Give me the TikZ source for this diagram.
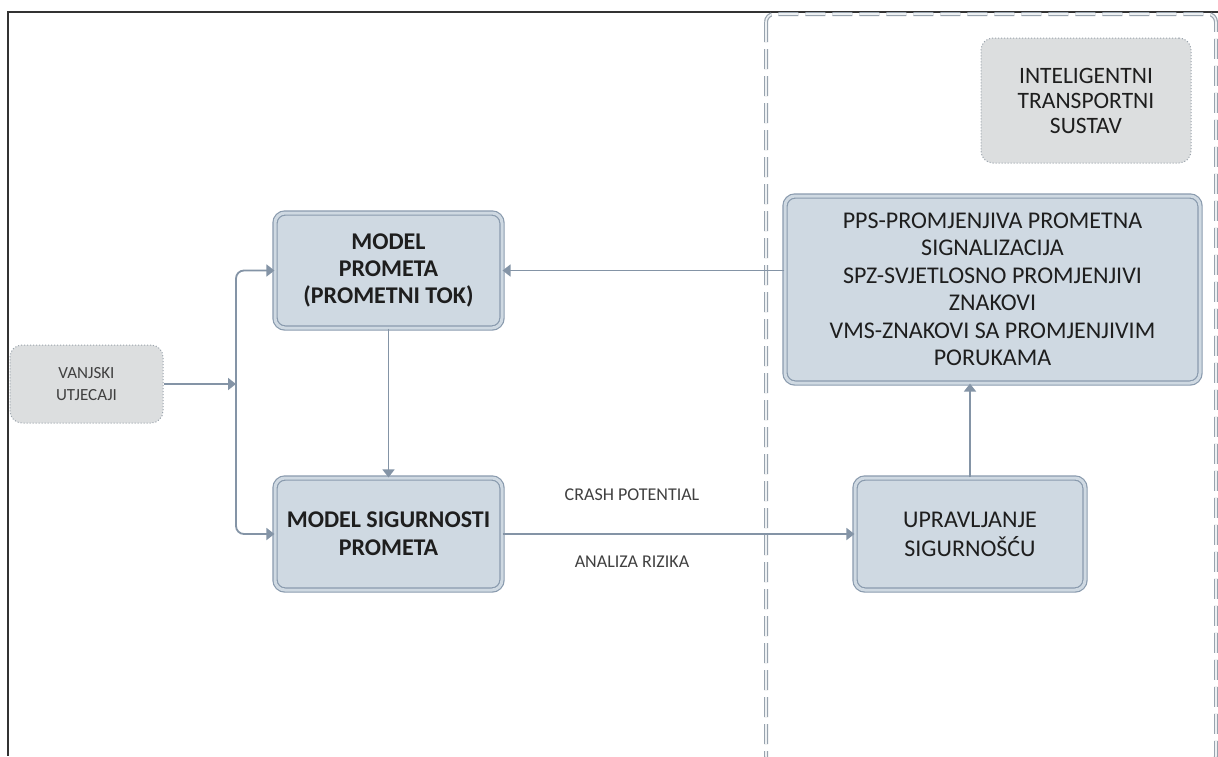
\documentclass[tikz,border=0pt]{standalone}
\usepackage{fontspec}
\setmainfont{Carlito}
\usetikzlibrary{arrows.meta}
\definecolor{boxfill}{HTML}{CFD9E2}
\definecolor{boxline}{HTML}{8A9BAE}
\definecolor{conn}{HTML}{8494A6}
\definecolor{greyfill}{HTML}{DCDEDF}
\definecolor{dotline}{HTML}{9AA3AC}
\definecolor{dashout}{HTML}{98A3AE}
\definecolor{dashin}{HTML}{EEF1F3}
\definecolor{txt}{HTML}{1E1E1E}
\tikzset{
  mainbox/.style={draw=boxline, line width=1.2pt, double=boxfill, double distance=3pt,
    fill=boxfill, rounded corners=10pt, align=center, text=txt, inner sep=0pt},
  greybox/.style={draw=dotline, line width=1pt, dotted, fill=greyfill, rounded corners=12pt,
    align=center, text=txt, inner sep=0pt},
  arr/.style={draw=conn, line width=1.8pt, -{Triangle[width=12pt,length=8pt]}},
  lbl/.style={text=black!75, font=\fontsize{18}{21}\selectfont, inner sep=0pt}
}
\begin{document}
\begin{tikzpicture}[x=1pt,y=-1pt]
\useasboundingbox (0,0) rectangle (1218,756);
\fill[white] (0,0) rectangle (1218,756);
% outer frame (top and left visible)
\draw[black!80, line width=1.5pt] (1218,12) -- (8,12) -- (8,756);
% dashed container
\draw[dashout, line width=4pt, dash pattern=on 20pt off 7pt, rounded corners=8pt] (766,14) rectangle (1216,764);
\draw[dashin, line width=1.6pt, dash pattern=on 20pt off 7pt, rounded corners=8pt] (766,14) rectangle (1216,764);
% nodes
\node[greybox, minimum width=153pt, minimum height=78pt, font=\fontsize{17}{22}\selectfont, text=black!75] (vanj) at (86.5,384) {VANJSKI\\UTJECAJI};
\node[mainbox, minimum width=227pt, minimum height=115pt, font=\bfseries\fontsize{24}{27}\selectfont] (mp) at (388.5,270.5) {MODEL\\PROMETA\\(PROMETNI TOK)};
\node[mainbox, minimum width=227pt, minimum height=112pt, font=\bfseries\fontsize{24}{28}\selectfont] (ms) at (388.5,534) {MODEL SIGURNOSTI\\PROMETA};
\node[mainbox, minimum width=230pt, minimum height=112pt, font=\fontsize{24}{29}\selectfont] (up) at (970,534) {UPRAVLJANJE\\SIGURNOŠĆU};
\node[mainbox, minimum width=415pt, minimum height=187pt, font=\fontsize{24}{27.5}\selectfont] (pps) at (992.5,289.5) {PPS-PROMJENJIVA PROMETNA\\SIGNALIZACIJA\\SPZ-SVJETLOSNO PROMJENJIVI\\ZNAKOVI\\VMS-ZNAKOVI SA PROMJENJIVIM\\PORUKAMA};
\node[greybox, minimum width=210pt, minimum height=125pt, font=\fontsize{23.5}{25}\selectfont] (its) at (1086,100.5) {INTELIGENTNI\\TRANSPORTNI\\SUSTAV};
% labels
\node[lbl] (crash) at (632,495) {CRASH POTENTIAL};
\node[lbl] (rizik) at (632,562) {ANALIZA RIZIKA};
% connectors
\coordinate (bus) at (236,384);
\draw[arr] (vanj.east) -- (bus);
\draw[draw=conn, line width=1.8pt, {Triangle[width=12pt,length=8pt]}-{Triangle[width=12pt,length=8pt]}, rounded corners=8pt]
  (mp.west) -- (mp.west -| bus) -- (ms.west -| bus) -- (ms.west);
\draw[arr] (mp.south) -- (ms.north);
\draw[arr] (ms.east) -- (up.west);
\draw[arr] (up.north) -- (up.north |- pps.south);
\draw[arr] (pps.west |- mp.east) -- (mp.east);
\end{tikzpicture}
\end{document}
